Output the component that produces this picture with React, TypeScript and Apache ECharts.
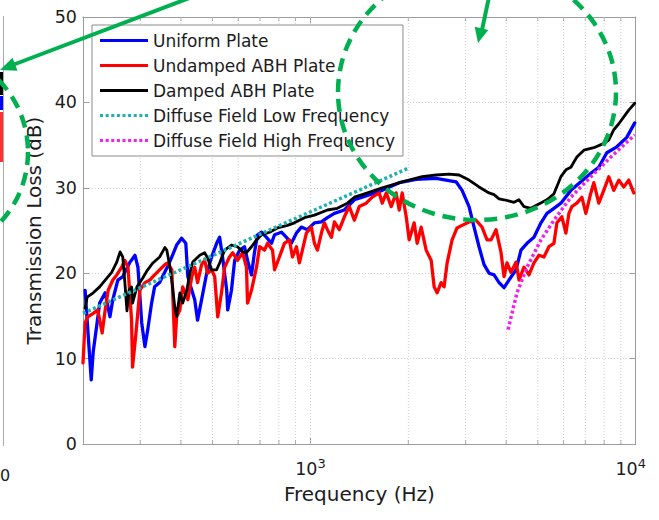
import React, { useEffect, useRef } from 'react';
import * as echarts from 'echarts';

const seriesNames = [
  'Uniform Plate',
  'Undamped ABH Plate',
  'Damped ABH Plate',
  'Diffuse Field Low Frequency',
  'Diffuse Field High Frequency',
];

const uniformFreq = [203, 207, 212, 215, 221, 225, 234, 242, 247, 256, 265, 279, 289, 295, 303, 310, 316, 325, 332, 344, 362, 375, 388, 402, 414, 420, 432, 441, 450, 463, 480, 497, 515, 526, 537, 553, 557, 572, 585, 606, 627, 641, 659, 673, 688, 708, 733, 759, 776, 815, 844, 874, 906, 938, 979, 1029, 1081, 1128, 1185, 1272, 1365, 1444, 1663, 1875, 2114, 2435, 2613, 2804, 2926, 3074, 3185, 3299, 3418, 3541, 3669, 3801, 3937, 4078, 4285, 4439, 4631, 4866, 5113, 5334, 5605, 5888, 6320, 6781, 7278, 7699, 8149, 8746, 9385, 9930];
const uniformTL = [18.0, 13.3, 7.5, 10.8, 14.2, 16.5, 17.7, 14.9, 16.9, 19.2, 19.6, 21.3, 22.1, 20.7, 14.2, 11.4, 13.3, 16.5, 18.4, 18.9, 20.6, 21.9, 23.3, 24.1, 23.5, 19.6, 18.0, 16.9, 14.5, 16.9, 20.0, 21.9, 23.5, 24.2, 21.9, 18.0, 15.7, 18.0, 21.5, 22.7, 23.1, 21.5, 19.8, 22.4, 24.5, 24.8, 24.2, 23.5, 24.5, 24.8, 24.2, 23.5, 24.7, 25.4, 25.1, 25.9, 26.0, 26.5, 27.0, 27.4, 28.6, 28.9, 29.7, 30.6, 31.0, 31.1, 30.9, 30.7, 29.7, 27.8, 25.4, 23.1, 21.0, 20.0, 19.8, 18.9, 18.3, 19.2, 20.4, 22.7, 23.5, 24.2, 25.9, 27.0, 27.6, 28.2, 29.7, 30.7, 31.7, 32.4, 34.1, 34.8, 35.9, 37.6];

const undampedFreq = [200, 203, 207, 215, 222, 229, 234, 239, 247, 254, 263, 269, 275, 282, 284, 291, 299, 310, 321, 328, 344, 357, 364, 375, 383, 388, 397, 405, 420, 432, 441, 450, 463, 473, 483, 497, 508, 519, 533, 545, 564, 577, 597, 619, 636, 641, 659, 683, 698, 723, 738, 765, 776, 803, 832, 862, 881, 906, 925, 945, 972, 1007, 1029, 1051, 1081, 1104, 1128, 1160, 1185, 1227, 1272, 1317, 1365, 1413, 1485, 1549, 1628, 1663, 1711, 1772, 1835, 1875, 1915, 1970, 2012, 2084, 2129, 2190, 2269, 2351, 2401, 2452, 2522, 2576, 2632, 2726, 2823, 2926, 3074, 3230, 3370, 3491, 3592, 3721, 3855, 3937, 4021, 4137, 4285, 4377, 4534, 4697, 4866, 5041, 5222, 5410, 5605, 5724, 5930, 6101, 6232, 6365, 6592, 6830, 7026, 7278, 7434, 7699, 7976, 8265, 8562, 8871, 9189, 9517, 9860];
const undampedTL = [9.5, 14.2, 14.9, 15.3, 15.7, 13.0, 15.7, 18.0, 19.2, 19.8, 20.7, 21.5, 20.7, 14.5, 9.0, 13.0, 18.0, 18.9, 19.2, 19.6, 20.4, 21.0, 21.2, 20.4, 11.4, 14.9, 15.7, 18.4, 16.9, 19.6, 20.7, 18.9, 21.0, 21.5, 20.0, 20.4, 19.6, 14.9, 17.7, 20.7, 21.9, 22.4, 21.5, 22.4, 20.7, 16.5, 18.0, 20.7, 23.1, 22.7, 23.5, 22.7, 20.4, 21.9, 23.5, 23.9, 21.9, 23.1, 21.2, 22.7, 24.7, 25.4, 23.5, 22.7, 24.7, 25.9, 25.1, 24.2, 26.0, 25.1, 26.6, 27.8, 26.2, 27.8, 28.2, 28.9, 29.4, 28.2, 29.4, 27.8, 29.4, 27.4, 29.4, 26.6, 23.9, 25.9, 23.5, 25.4, 22.7, 21.5, 18.4, 17.7, 18.9, 18.4, 21.2, 23.9, 25.3, 25.6, 26.0, 26.2, 25.4, 23.9, 23.9, 25.1, 22.4, 19.6, 21.2, 20.1, 21.3, 19.2, 20.7, 19.8, 21.2, 22.1, 21.9, 23.1, 23.5, 25.9, 26.6, 24.7, 27.0, 27.8, 28.2, 28.9, 27.0, 29.4, 30.6, 28.2, 29.7, 31.3, 29.7, 30.9, 30.1, 30.9, 29.4];

const dampedFreq = [203, 206, 215, 225, 234, 245, 254, 260, 265, 269, 273, 277, 282, 284, 293, 305, 316, 328, 344, 357, 362, 369, 377, 383, 388, 397, 405, 417, 426, 435, 457, 473, 483, 497, 515, 526, 545, 572, 597, 619, 636, 659, 683, 708, 749, 792, 850, 893, 959, 1029, 1128, 1210, 1299, 1365, 1444, 1663, 1915, 2206, 2435, 2669, 2864, 3074, 3299, 3541, 3669, 3801, 3937, 4226, 4377, 4534, 4764, 4970, 5334, 5605, 5888, 6101, 6320, 6592, 6927, 7434, 7976, 8265, 8562, 8871, 9189, 9517, 9930];
const dampedTL = [15.9, 17.2, 17.7, 18.4, 19.2, 20.1, 21.3, 22.5, 21.9, 18.9, 15.6, 18.0, 18.4, 16.5, 18.4, 19.4, 20.4, 21.2, 21.9, 23.0, 22.7, 21.0, 18.4, 16.0, 14.9, 17.7, 16.5, 18.0, 20.0, 21.3, 22.1, 22.4, 21.8, 20.4, 20.4, 21.2, 22.7, 23.3, 23.1, 22.5, 22.4, 23.1, 23.9, 24.5, 24.8, 25.3, 25.6, 25.9, 26.5, 26.8, 27.4, 27.6, 28.2, 28.9, 29.2, 30.0, 30.7, 31.3, 31.5, 31.6, 31.5, 30.9, 30.1, 29.4, 29.2, 28.7, 28.6, 28.3, 28.6, 27.8, 27.6, 28.0, 28.6, 29.3, 31.3, 32.1, 32.4, 33.6, 34.4, 34.7, 35.2, 35.6, 36.8, 37.5, 38.3, 39.1, 39.9];

const lowFreqFreq = [200, 2000];
const lowFreqTL = [15.3, 32.3];

const highFreqFreq = [4050, 4315, 4631, 5113, 5605, 6320, 7278, 8383, 9930];
const highFreqTL = [13.4, 17.7, 20.7, 23.9, 26.2, 28.9, 31.3, 33.6, 36.2];

const gridFreqs = [300, 400, 500, 600, 700, 800, 900, 1000, 2000, 3000, 4000, 5000, 6000, 7000, 8000, 9000];
const minorTickFreqs = [300, 400, 500, 600, 700, 800, 900, 2000, 3000, 4000, 5000, 6000, 7000, 8000, 9000];

const FONT = '"DejaVu Sans", "Liberation Sans", sans-serif';
const AXIS = '#9c9c9c';
const TXT = '#1c1c1c';
const GREEN = '#00b050';

const zip = (f: number[], v: number[]) => f.map((x, i) => [x, v[i]]);

const SOLID_ICON = 'path://M0,0H48V3H0Z';
const DOT_ICON =
  'path://M0,0h3v3h-3z M5.5,0h3v3h-3z M11,0h3v3h-3z M16.5,0h3v3h-3z M22,0h3v3h-3z M27.5,0h3v3h-3z M33,0h3v3h-3z M38.5,0h3v3h-3z M44,0h3v3h-3z';

export default function App() {
  const ref = useRef<HTMLDivElement>(null);
  useEffect(() => {
    const chart = echarts.init(ref.current!, null, { renderer: 'svg' });
    const gridData: any[] = [];
    gridFreqs.forEach((f) => {
      gridData.push([f, 0], [f, 50], [f, null]);
    });
    const lineBase = (name: string, color: string, width: number, data: any[], type: any = 'solid', cap = 'round') => ({
      name,
      type: 'line',
      data,
      symbol: 'none',
      z: 3,
      lineStyle: { color, width, type, cap, join: 'round' },
      itemStyle: { color },
      xAxisIndex: 0,
      yAxisIndex: 0,
    });
    const option: any = {
      animation: false,
      backgroundColor: '#fff',
      grid: { left: 83, right: 22, top: 17, bottom: 76, containLabel: false },
      legend: {
        data: [
          { name: seriesNames[0], icon: SOLID_ICON },
          { name: seriesNames[1], icon: SOLID_ICON },
          { name: seriesNames[2], icon: SOLID_ICON },
          { name: seriesNames[3], icon: DOT_ICON },
          { name: seriesNames[4], icon: DOT_ICON },
        ],
        orient: 'vertical',
        left: 92,
        top: 25,
        padding: [3, 8, 3, 8],
        itemGap: 0,
        itemWidth: 48,
        itemHeight: 3.5,
        backgroundColor: '#fff',
        borderColor: '#8a8a8a',
        borderWidth: 1,
        borderRadius: 0,
        textStyle: { fontFamily: FONT, fontSize: 17, lineHeight: 25, color: TXT },
      },
      xAxis: [
        {
          type: 'log',
          logBase: 10,
          min: 200,
          max: 10000,
          position: 'bottom',
          name: 'Frequency (Hz)',
          nameLocation: 'middle',
          nameGap: 40,
          nameTextStyle: { fontFamily: FONT, fontSize: 20, color: TXT },
          axisLine: { show: true, onZero: false, lineStyle: { color: AXIS, width: 1 } },
          axisTick: { show: true, inside: true, length: 6, lineStyle: { color: AXIS } },
          splitLine: { show: false },
          axisLabel: {
            margin: 13,
            color: TXT,
            formatter: (v: number) => {
              if (Math.abs(v - 1000) < 1) return '{a|10}{b|3}';
              if (Math.abs(v - 10000) < 1) return '{a|10}{d|4}';
              return '';
            },
            rich: {
              a: { fontFamily: FONT, fontSize: 17.5, lineHeight: 24, color: TXT, verticalAlign: 'middle' },
              b: { fontFamily: FONT, fontSize: 13, lineHeight: 13, color: TXT, verticalAlign: 'top' },
              d: { fontFamily: FONT, fontSize: 13, lineHeight: 13, color: TXT, verticalAlign: 'top', padding: [0, 10, 0, 0] },
            },
          },
        },
        {
          type: 'log',
          logBase: 10,
          min: 200,
          max: 10000,
          position: 'top',
          axisLine: { show: true, onZero: false, lineStyle: { color: AXIS, width: 1 } },
          axisTick: { show: true, inside: true, length: 6, lineStyle: { color: AXIS } },
          axisLabel: { show: false },
          splitLine: { show: false },
        },
      ],
      yAxis: [
        {
          type: 'value',
          min: 0,
          max: 50,
          interval: 10,
          position: 'left',
          name: 'Transmission Loss (dB)',
          nameLocation: 'middle',
          nameGap: 38,
          nameTextStyle: { fontFamily: FONT, fontSize: 20, color: TXT },
          axisLine: { show: true, lineStyle: { color: AXIS, width: 1 } },
          axisTick: { show: true, inside: true, length: 6, lineStyle: { color: AXIS } },
          axisLabel: { margin: 6, fontFamily: FONT, fontSize: 17.5, color: TXT },
          splitLine: { show: true, lineStyle: { color: '#cfcfcf', type: [1, 2], width: 1 } },
        },
        {
          type: 'value',
          min: 0,
          max: 50,
          interval: 10,
          position: 'right',
          axisLine: { show: true, lineStyle: { color: AXIS, width: 1 } },
          axisTick: { show: true, inside: true, length: 6, lineStyle: { color: AXIS } },
          axisLabel: { show: false },
          splitLine: { show: false },
        },
      ],
      series: [
        {
          name: 'grid',
          type: 'line',
          data: gridData,
          symbol: 'none',
          connectNulls: false,
          silent: true,
          z: 1,
          lineStyle: { color: '#cfcfcf', width: 1, type: [1, 2] },
        },
        {
          name: 'ticksBottom',
          type: 'scatter',
          data: minorTickFreqs.map((f) => [f, 0]),
          symbol: 'rect',
          symbolSize: [1, 4],
          symbolOffset: [0, -2],
          itemStyle: { color: AXIS },
          silent: true,
          clip: false,
          z: 4,
        },
        {
          name: 'ticksTop',
          type: 'scatter',
          data: minorTickFreqs.map((f) => [f, 50]),
          symbol: 'rect',
          symbolSize: [1, 4],
          symbolOffset: [0, 2],
          itemStyle: { color: AXIS },
          silent: true,
          clip: false,
          z: 4,
        },
        lineBase(seriesNames[0], '#0000ff', 3.3, zip(uniformFreq, uniformTL)),
        lineBase(seriesNames[1], '#ff0000', 3.3, zip(undampedFreq, undampedTL)),
        lineBase(seriesNames[2], '#000000', 2.8, zip(dampedFreq, dampedTL)),
        lineBase(seriesNames[3], '#22b0b0', 3.5, zip(lowFreqFreq, lowFreqTL), [3, 2.5], 'butt'),
        lineBase(seriesNames[4], '#ee22ee', 3.5, zip(highFreqFreq, highFreqTL), [3, 2.5], 'butt'),
      ],
      graphic: [
        { type: 'line', z: 0, shape: { x1: 3.5, y1: 16, x2: 3.5, y2: 446 }, style: { stroke: '#ababab', lineWidth: 1 } },
        { type: 'rect', z: 0, shape: { x: 0, y: 72, width: 3, height: 23 }, style: { fill: '#000' } },
        { type: 'rect', z: 0, shape: { x: 0, y: 96, width: 3, height: 14 }, style: { fill: '#0000ff' } },
        { type: 'rect', z: 0, shape: { x: 0, y: 112, width: 3, height: 50 }, style: { fill: '#ff3030' } },
        {
          type: 'text',
          z: 0,
          style: { text: '0', x: 0, y: 475, align: 'left', textAlign: 'left', verticalAlign: 'middle', textVerticalAlign: 'middle', font: '16px "DejaVu Sans"', fill: TXT },
        },
        { type: 'circle', z: 100, shape: { cx: -75, cy: 152, r: 103 }, style: { fill: 'none', stroke: GREEN, lineWidth: 4.5, lineDash: [13, 8] } },
        { type: 'ellipse', z: 100, shape: { cx: 477, cy: 92, rx: 139, ry: 128 }, style: { fill: 'none', stroke: GREEN, lineWidth: 4.5, lineDash: [13, 8] } },
        { type: 'line', z: 100, shape: { x1: 192, y1: -3, x2: 10, y2: 66 }, style: { stroke: GREEN, lineWidth: 4 } },
        { type: 'polygon', z: 100, shape: { points: [[0, 70], [17.5, 70.8], [12.5, 57.8]] }, style: { fill: GREEN } },
        { type: 'line', z: 100, shape: { x1: 489, y1: -3, x2: 482, y2: 30 }, style: { stroke: GREEN, lineWidth: 4 } },
        { type: 'polygon', z: 100, shape: { points: [[478, 43], [488.3, 30], [474.7, 26.8]] }, style: { fill: GREEN } },
      ],
    };
    chart.setOption(option);
    return () => chart.dispose();
  }, []);
  return (
    <div
      ref={ref}
      style={{ position: 'fixed', left: 0, top: 0, width: 659, height: 520, background: '#fff' }}
    />
  );
}
